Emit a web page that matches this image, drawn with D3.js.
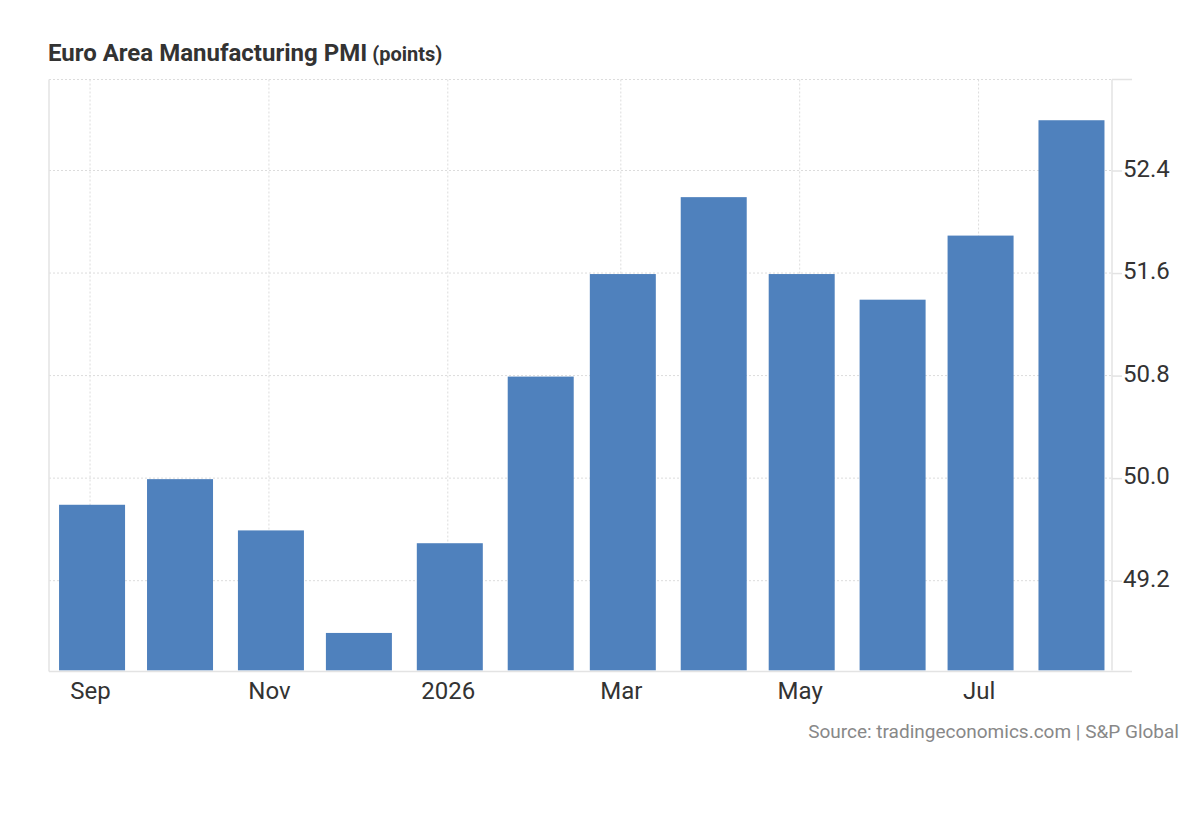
<!DOCTYPE html>
<html>
<head>
<meta charset="utf-8">
<script src="https://cdn.jsdelivr.net/npm/d3@7"></script>
<style>
  body { margin: 0; background: #fff; }
  text { font-family: Roboto, "Noto Sans", sans-serif; }
</style>
</head>
<body>
<script>
// monthly readings, Sep 2025 .. Aug 2026
var months = ["2025-09","2025-10","2025-11","2025-12","2026-01","2026-02",
              "2026-03","2026-04","2026-05","2026-06","2026-07","2026-08"];
var pmi = [49.8, 50.0, 49.6, 48.8, 49.5, 50.8, 51.6, 52.2, 51.6, 51.4, 51.9, 52.8];

// axis ticks
var xTickMonths = ["2025-09","2025-11","2026-01","2026-03","2026-05","2026-07"];
var xTickLabels = ["Sep","Nov","2026","Mar","May","Jul"];
var yTicks = [49.2, 50.0, 50.8, 51.6, 52.4];

var W = 1200, H = 820;
var plot = {left: 49, right: 1112, top: 79.5, bottom: 670.4};
var barWidth = 66, barShift = 2;

var parseMonth = d3.timeParse("%Y-%m");

var svg = d3.select("body")
  .append("svg")
    .attr("width", W)
    .attr("height", H);

// time scale, so month lengths show in the spacing
var xScale = d3.scaleTime()
  .domain([new Date(2025, 7, 18), new Date(2026, 7, 15, 12)])
  .range([plot.left, plot.right]);

var yScale = d3.scaleLinear()
  .domain([48.5, 53.11])
  .range([plot.bottom, plot.top]);

// horizontal dotted grid
svg.append("g")
  .selectAll("line")
  .data(yTicks.concat([yScale.domain()[1]]))
  .enter()
  .append("line")
    .attr("x1", plot.left)
    .attr("x2", plot.right)
    .attr("y1", function(d) { return yScale(d); })
    .attr("y2", function(d) { return yScale(d); })
    .attr("stroke", "#dcdcdc")
    .attr("stroke-width", 1)
    .attr("stroke-dasharray", "2,2");

// vertical dotted grid
svg.append("g")
  .selectAll("line")
  .data(xTickMonths)
  .enter()
  .append("line")
    .attr("x1", function(d) { return xScale(parseMonth(d)); })
    .attr("x2", function(d) { return xScale(parseMonth(d)); })
    .attr("y1", plot.top)
    .attr("y2", plot.bottom)
    .attr("stroke", "#dcdcdc")
    .attr("stroke-width", 1)
    .attr("stroke-dasharray", "2,2");

// bars (top edge sits one pixel under the value line, like the original)
svg.selectAll(".bar")
  .data(pmi)
  .enter()
  .append("rect")
    .attr("class", "bar")
    .attr("fill", "#4f81bd")
    .attr("x", function(d, i) { return xScale(parseMonth(months[i])) - barWidth / 2 + barShift; })
    .attr("y", function(d) { return yScale(d) + 1; })
    .attr("width", barWidth)
    .attr("height", function(d) { return plot.bottom - yScale(d) - 1; });

// frame lines
var frame = svg.append("g").attr("stroke", "#e3e3e3").attr("stroke-width", 1.5);
frame.append("line")
  .attr("x1", plot.left).attr("x2", plot.left)
  .attr("y1", plot.top).attr("y2", plot.bottom + 1);
frame.append("line")
  .attr("x1", plot.right).attr("x2", plot.right)
  .attr("y1", plot.top).attr("y2", plot.bottom);
frame.append("line")
  .attr("x1", plot.left).attr("x2", plot.right + 20)
  .attr("y1", plot.bottom + 1).attr("y2", plot.bottom + 1);
frame.append("line")
  .attr("x1", plot.right).attr("x2", plot.right + 20)
  .attr("y1", plot.top).attr("y2", plot.top);

// right y axis
var yAxis = d3.axisRight(yScale)
  .tickValues(yTicks)
  .tickFormat(d3.format(".1f"))
  .tickSize(10)
  .tickPadding(1);

var gy = svg.append("g")
  .attr("transform", "translate(" + plot.right + ",0)")
  .call(yAxis);
gy.select(".domain").remove();
gy.selectAll(".tick line").attr("stroke", "#e3e3e3").attr("stroke-width", 1.5);
gy.selectAll(".tick text")
  .attr("fill", "#333")
  .attr("dy", "0.23em")
  .style("font-size", "24px");

// bottom x axis
var xAxis = d3.axisBottom(xScale)
  .tickValues(xTickMonths.map(parseMonth))
  .tickFormat(function(d, i) { return xTickLabels[i]; })
  .tickSize(0)
  .tickPadding(12);

var gx = svg.append("g")
  .attr("transform", "translate(0," + plot.bottom + ")")
  .call(xAxis);
gx.select(".domain").remove();
gx.selectAll(".tick text")
  .attr("fill", "#333")
  .style("font-size", "24px");

// title
var title = svg.append("text")
  .attr("x", 48)
  .attr("y", 61)
  .attr("fill", "#333")
  .style("font-size", "24px")
  .style("font-weight", "bold")
  .text("Euro Area Manufacturing PMI");
title.append("tspan")
  .style("font-size", "20px")
  .text(" (points)");

// source
svg.append("text")
  .attr("x", 1179)
  .attr("y", 738)
  .attr("text-anchor", "end")
  .attr("fill", "#888")
  .style("font-size", "19px")
  .text("Source: tradingeconomics.com | S&P Global");
</script>
</body>
</html>
